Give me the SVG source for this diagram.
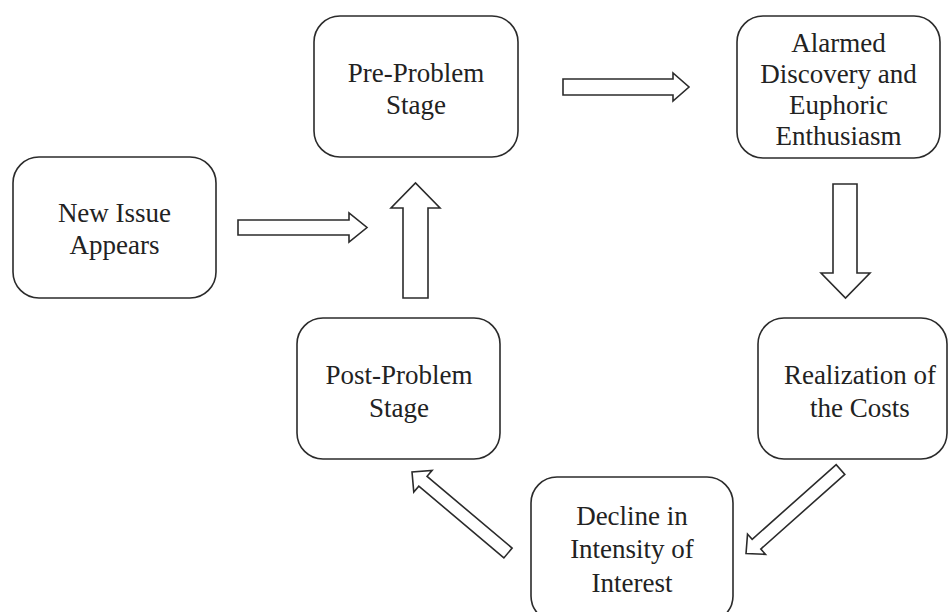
<svg xmlns="http://www.w3.org/2000/svg" width="948" height="612" viewBox="0 0 948 612">
<style>
.box{fill:#fff;stroke:#2b2b2b;stroke-width:1.6}
.arr{fill:#fff;stroke:#2b2b2b;stroke-width:1.6;stroke-linejoin:miter}
.t{font-family:"Liberation Serif","Times New Roman",serif;font-size:27px;fill:#222;text-anchor:middle}
</style>
<rect width="948" height="612" fill="#fff"/>
<g id="connectors">
<polygon class="arr" points="238,220 349,220 349,213 367,227.5 349,242 349,235 238,235"/>
<polygon class="arr" points="563,79 673,79 673,73 689,87 673,101 673,95 563,95"/>
<polygon class="arr" points="403,298 403,208 391,208 415.5,183 440,208 428,208 428,298"/>
<polygon class="arr" points="833,184 857,184 857,273 870,273 845.5,298 821,273 833,273"/>
<polygon class="arr" transform="translate(840.5,469.5) rotate(138.37)" points="0,-6.5 112.4,-6.5 112.4,-13.5 126.4,0 112.4,13.5 112.4,6.5 0,6.5"/>
<polygon class="arr" transform="translate(508,553) rotate(-139.84)" points="0,-6.4 111.3,-6.4 111.3,-14.2 125.6,0 111.3,14.2 111.3,6.4 0,6.4"/>
</g>
<g id="new-issue">
<rect class="box" x="13" y="157" width="203" height="141" rx="26"/>
<text class="t" x="114.5" y="222">New Issue</text>
<text class="t" x="114.5" y="254">Appears</text>
</g>
<g id="pre-problem">
<rect class="box" x="314" y="16" width="204" height="141" rx="26"/>
<text class="t" x="416" y="82">Pre-Problem</text>
<text class="t" x="416" y="114">Stage</text>
</g>
<g id="alarmed">
<rect class="box" x="737" y="16" width="203" height="142" rx="26"/>
<text class="t" x="838.5" y="52">Alarmed</text>
<text class="t" x="838.5" y="83">Discovery and</text>
<text class="t" x="838.5" y="114">Euphoric</text>
<text class="t" x="838.5" y="145">Enthusiasm</text>
</g>
<g id="realization">
<rect class="box" x="758" y="318" width="189" height="141" rx="26"/>
<text class="t" x="860" y="384">Realization of</text>
<text class="t" x="860" y="417">the Costs</text>
</g>
<g id="decline">
<rect class="box" x="531" y="477" width="202" height="145" rx="26"/>
<text class="t" x="632" y="525">Decline in</text>
<text class="t" x="632" y="558">Intensity of</text>
<text class="t" x="632" y="592">Interest</text>
</g>
<g id="post-problem">
<rect class="box" x="297" y="318" width="203" height="141" rx="26"/>
<text class="t" x="399" y="384">Post-Problem</text>
<text class="t" x="399" y="417">Stage</text>
</g>
</svg>
